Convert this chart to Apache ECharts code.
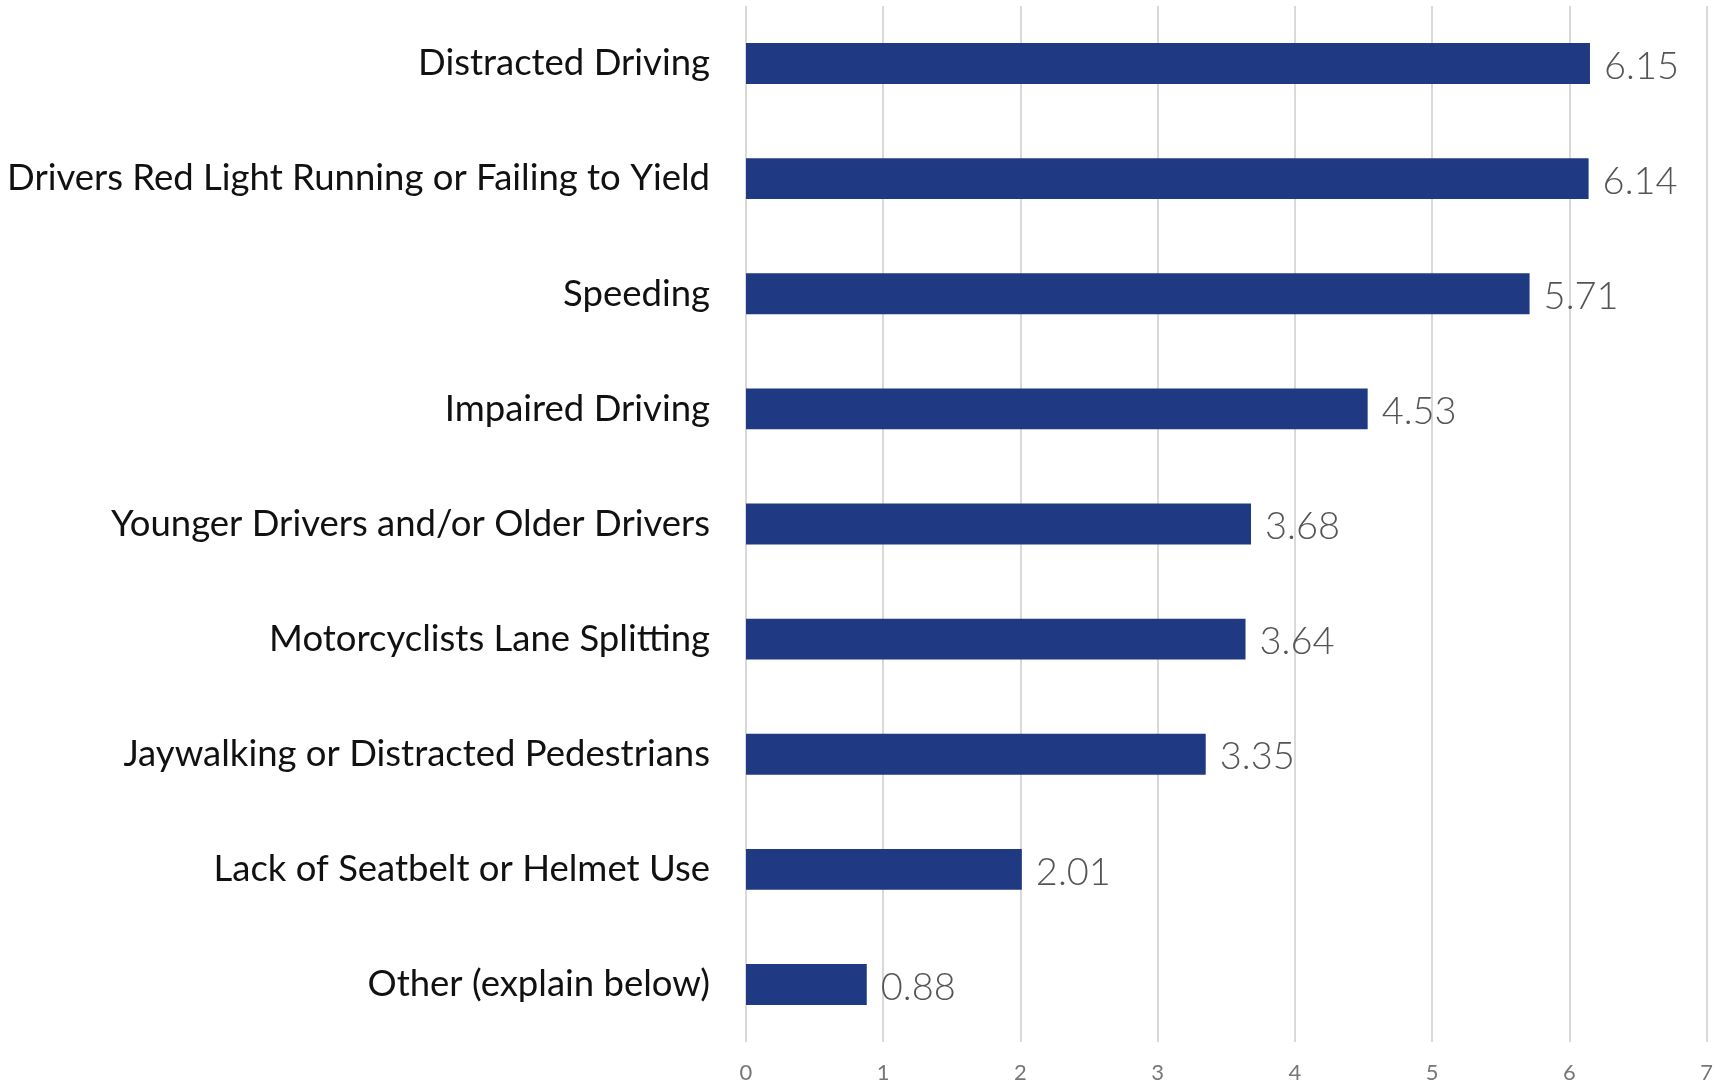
<!DOCTYPE html>
<html><head><meta charset="utf-8">
<script src="https://cdn.jsdelivr.net/npm/echarts@6/dist/echarts.min.js"></script>
<style>html,body{margin:0;padding:0;background:#fff}#c{width:1716px;height:1086px}</style>
</head><body><div id="c"></div>
<script>
const categories = ["Distracted Driving","Drivers Red Light Running or Failing to Yield","Speeding","Impaired Driving","Younger Drivers and/or Older Drivers","Motorcyclists Lane Splitting","Jaywalking or Distracted Pedestrians","Lack of Seatbelt or Helmet Use","Other (explain below)"];
const values = [6.15,6.14,5.71,4.53,3.68,3.64,3.35,2.01,0.88];
const chart = echarts.init(document.getElementById('c'));
chart.setOption({
  animation:false,
  grid:{left:746,right:7,top:6,bottom:44,containLabel:false},
  xAxis:{type:'value',min:0,max:7,interval:1,
    axisLine:{show:false},axisTick:{show:false},
    splitLine:{lineStyle:{color:'#d9d9d9',width:2}},
    axisLabel:{color:'#777',fontSize:22,fontFamily:'Lato',margin:20}},
  yAxis:{type:'category',data:categories,inverse:true,
    axisLine:{show:false},axisTick:{show:false},
    axisLabel:{color:'#111',fontSize:36.5,fontFamily:'Lato',margin:36}},
  series:[{type:'bar',data:values,barWidth:'35.5%',itemStyle:{color:'#1f3a82'},
    label:{show:true,position:'right',distance:14,color:'#555',fontSize:38,fontFamily:'Lato',fontWeight:300,offset:[0,3]}}]
});
</script></body></html>
